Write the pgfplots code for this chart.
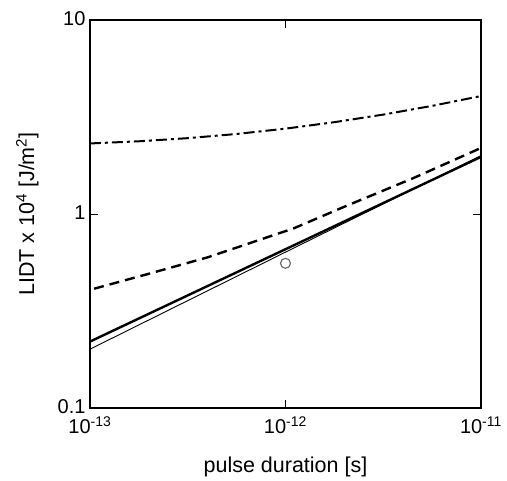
\documentclass[border=0pt]{standalone}
\usepackage{fontspec}
\setmainfont{Liberation Sans}
\usepackage{pgfplots}
\pgfplotsset{compat=1.18}

\begin{document}
\begin{tikzpicture}
\begin{axis}[
    scale only axis,
    width=391pt, height=388pt,
    xmode=log, ymode=log,
    xmin=1e-13, xmax=1e-11,
    ymin=0.1, ymax=10,
    xtick={1e-13,1e-12,1e-11},
    xticklabels={10\textsuperscript{-13},10\textsuperscript{-12},10\textsuperscript{-11}},
    ytick={0.1,1,10},
    yticklabels={0.1,1,10},
    xminorticks=false, yminorticks=false,
    major tick length=8pt,
    tick align=inside,
    axis line style={line width=1.1pt},
    every tick/.append style={black, line width=1pt},
    tick label style={font=\fontsize{20}{22}\selectfont},
    xticklabel style={yshift=-5pt},
    yticklabel style={xshift=-1pt, yshift=1pt},
    label style={font=\fontsize{21.5}{24}\selectfont},
    xlabel={pulse duration [s]},
    ylabel={LIDT x 10\textsuperscript{4} [J/m\textsuperscript{2}]},
    x label style={at={(axis description cs:0.5,-0.152)}, anchor=center},
    y label style={at={(axis description cs:-0.160,0.5)}, anchor=center},
    clip=false,
]
% dash-dot curve
\addplot[black, line width=2pt, dash pattern=on 11pt off 4pt on 3pt off 4pt]
    coordinates {(1e-13,2.31) (1.778e-13,2.37) (3.162e-13,2.46) (5.623e-13,2.585)
                 (1e-12,2.754) (1.778e-12,2.974) (3.162e-12,3.254) (5.623e-12,3.609) (1e-11,4.055)};
% dashed curve
\addplot[black, line width=2.4pt, dash pattern=on 10pt off 6pt]
    coordinates {(1.05e-13,0.412) (2e-13,0.492) (4e-13,0.598) (1.1e-12,0.843)
                 (2e-12,1.09) (4.5e-12,1.53) (1e-11,2.19)};
% thick solid
\addplot[black, line width=2.4pt]
    coordinates {(1e-13,0.22) (1e-11,1.97)};
% thin solid
\addplot[black, line width=0.9pt]
    coordinates {(1e-13,0.201) (1e-12,0.636) (1e-11,2.0)};
% measured point
\addplot[only marks, mark=o, mark size=5pt, draw=black!60, line width=1.1pt]
    coordinates {(1e-12,0.557)};
\end{axis}
\path ([shift={(-90pt,-71pt)}]current axis.south west)
    rectangle ([shift={(26pt,20pt)}]current axis.north east);
\end{tikzpicture}
\end{document}
